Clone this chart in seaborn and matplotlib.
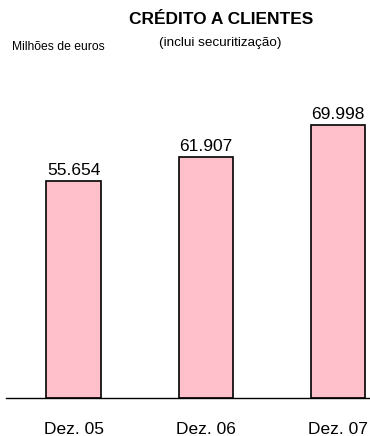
import matplotlib
matplotlib.use("Agg")
import matplotlib.pyplot as plt
import seaborn as sns

# dados (milhões de euros)
periodos = ["Dez. 05", "Dez. 06", "Dez. 07"]
credito = [55.654, 61.907, 69.998]
rotulos = ["55.654", "61.907", "69.998"]

sns.set_style("white")
plt.rcParams['font.family'] = ['Liberation Sans', 'DejaVu Sans']
plt.rcParams['text.color'] = 'black'
plt.rcParams['xtick.color'] = 'black'
plt.rcParams['axes.labelcolor'] = 'black'

fig = plt.figure(figsize=(3.7, 4.36), dpi=100)
ax = fig.add_axes([6 / 370, 38 / 436, 364 / 370, 298 / 436])

sns.barplot(x=periodos, y=credito, ax=ax, color="#ffc0cc", saturation=1,
            edgecolor="black", linewidth=1.2, width=0.41)

ax.bar_label(ax.containers[0], labels=rotulos, padding=2, fontsize=12.5, color="black")

ax.set_xlim(-0.51, 2.24)
ax.set_ylim(0, 76.4)
ax.set_yticks([])
ax.set_xlabel("")
ax.set_ylabel("")
ax.tick_params(axis="x", length=0, pad=17, labelsize=12.5, labelcolor="black")
for s in ["top", "right", "left"]:
    ax.spines[s].set_visible(False)
ax.spines["bottom"].set_linewidth(1.0)
ax.spines["bottom"].set_color("black")

fig.text(221 / 370, 1 - 20 / 436, "CRÉDITO A CLIENTES", ha="center", va="center",
         fontsize=12.5, fontweight="bold", color="black")
fig.text(220 / 370, 1 - 43 / 436, "(inclui securitização)", ha="center", va="center",
         fontsize=9.7, color="black")
fig.text(12 / 370, 1 - 47 / 436, "Milhões de euros", ha="left", va="center",
         fontsize=8.7, color="black")

fig.savefig("out.png", dpi=100)
